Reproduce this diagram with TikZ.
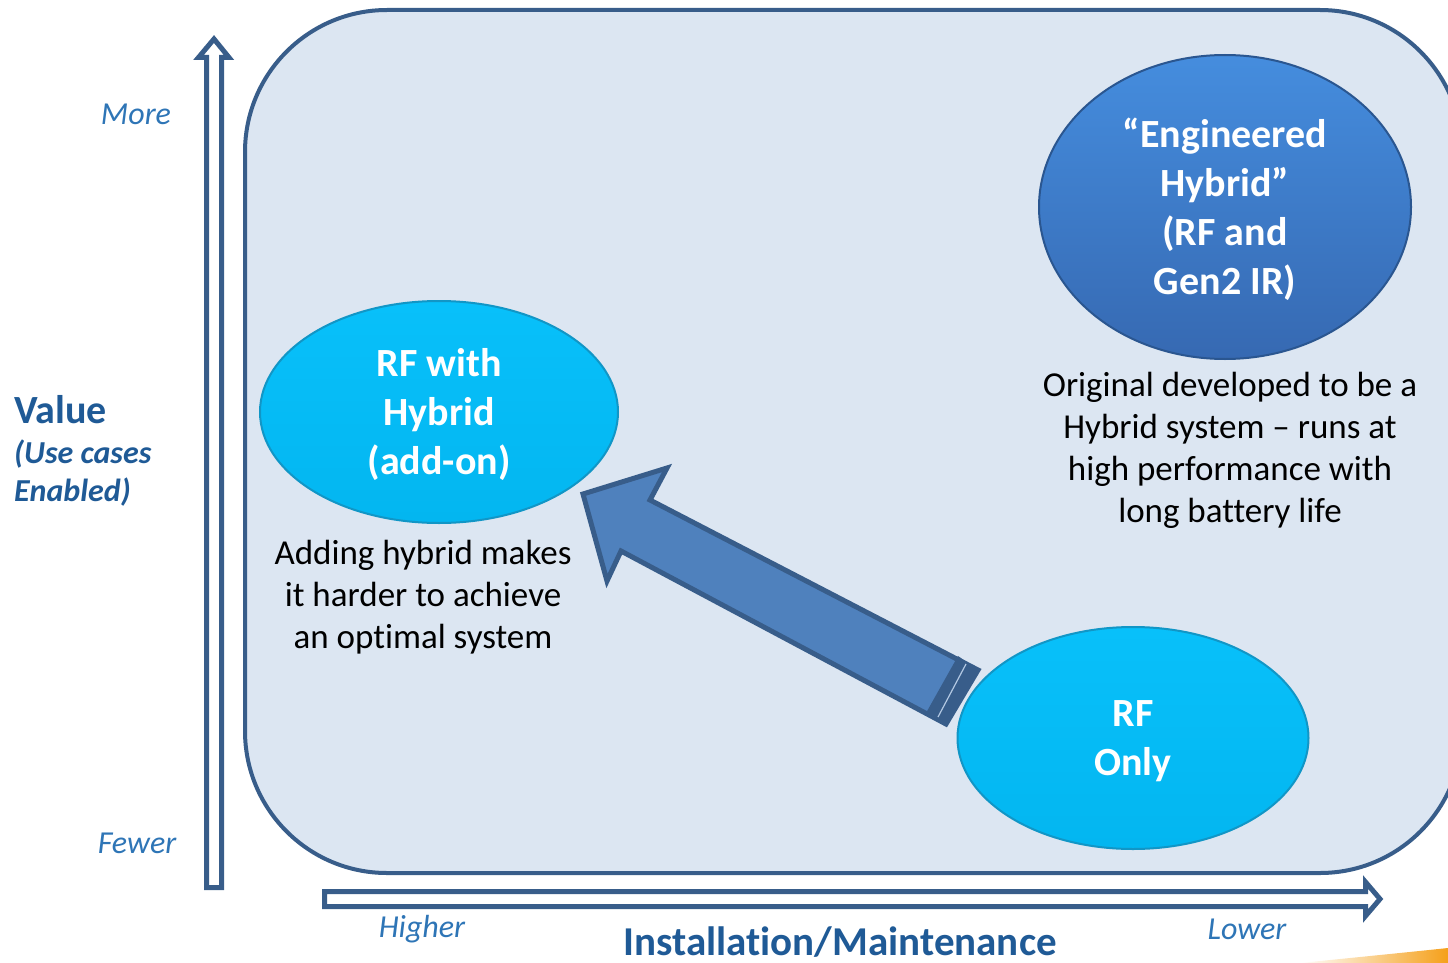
\documentclass[tikz,border=0pt]{standalone}
\usepackage{fontspec}
\setmainfont{Carlito}[RawFeature=-liga]
\usetikzlibrary{shapes.geometric}
\definecolor{frame}{HTML}{385D8A}
\definecolor{panel}{HTML}{DCE6F2}
\definecolor{arrowfill}{HTML}{4F81BD}
\definecolor{cyanA}{HTML}{08C0FA}
\definecolor{cyanB}{HTML}{03B6F0}
\definecolor{cyanR}{HTML}{1196C6}
\definecolor{blueA}{HTML}{458DDE}
\definecolor{blueB}{HTML}{3669B2}
\definecolor{blueR}{HTML}{2A5690}
\definecolor{labblue}{HTML}{2E75B6}
\definecolor{darkblue}{HTML}{1F5A96}
\definecolor{orng}{HTML}{F5A01A}
\tikzset{
  axisarrow/.style={draw=frame, line width=5pt, fill=white, line join=miter},
  bubble/.style={ellipse, inner sep=0pt, text=white, align=center,
    font=\fontsize{40}{49}\selectfont\bfseries},
  cyanbubble/.style={bubble, draw=cyanR, line width=2pt, top color=cyanA, bottom color=cyanB},
  bluebubble/.style={bubble, draw=blueR, line width=2pt, top color=blueA, bottom color=blueB},
  desc/.style={align=center, font=\fontsize{35}{42}\selectfont, text=black},
  axlab/.style={font=\fontsize{32}{38}\selectfont\itshape, text=labblue},
}
\begin{document}
\begin{tikzpicture}[x=1pt,y=-1pt]
\useasboundingbox (0,0) rectangle (1448,963);
\clip (0,0) rectangle (1448,963);
% panel
\draw[frame, line width=4pt, fill=panel, rounded corners=142pt] (245,10) rectangle (1462,873);
% vertical axis arrow
\draw[axisarrow] (214,39) -- (229,57.5) -- (221.5,57.5) -- (221.5,887.5) -- (206.5,887.5) -- (206.5,57.5) -- (198.5,57.5) -- cycle;
% horizontal axis arrow
\draw[axisarrow] (1380,899) -- (1365.5,916) -- (1365.5,906.5) -- (324.5,906.5) -- (324.5,891.5) -- (1365.5,891.5) -- (1365.5,882) -- cycle;
% orange swoosh
\shade[left color=white, right color=orng] (1300,963) .. controls (1370,956) and (1410,952) .. (1448,948) -- (1448,963) -- cycle;
% bubbles
\node[bluebubble, minimum width=372pt, minimum height=304pt] (eng) at (1225,207) {};
\node[cyanbubble, minimum width=358pt, minimum height=222pt] (rfh) at (439,412) {};
\node[cyanbubble, minimum width=351pt, minimum height=222pt] (rfo) at (1133,738) {};
\node[bubble] (engt) at (1225,209) {“Engineered\\Hybrid”\\(RF and\\Gen2 IR)};
\node[bubble] (rfht) at (439,414) {RF with\\Hybrid\\(add-on)};
\node[bubble] (rfot) at (1133,741) {RF\\Only};
% big block arrow
\coordinate (tip) at (583,494);
\draw[frame, line width=5pt, fill=arrowfill, line join=miter]
  (tip) -- (667,468) -- (650,500) -- (978,670) -- (946,724) -- (621,551) -- (607,581) -- cycle;
\fill[frame] (958,656) -- (978,670) -- (946,724) -- (926,713) -- cycle;
\draw[panel!70!arrowfill, line width=1.2pt] (966,664) -- (938,717);
% descriptions
\node[desc] (d1) at (423,597) {Adding hybrid makes\\it harder to achieve\\an optimal system};
\node[desc] (d2) at (1230,450) {Original developed to be a\\Hybrid system – runs at\\high performance with\\long battery life};
% axis labels
\node[axlab] (more) at (136,114) {More};
\node[axlab] (fewer) at (137,843) {Fewer};
\node[axlab] (higher) at (422,929) {Higher};
\node[axlab] (lower) at (1247,929) {Lower};
\node[font=\fontsize{41}{46}\selectfont\bfseries, text=darkblue] (inst) at (840,942) {Installation/Maintenance};
\node[anchor=west, inner sep=0pt, font=\fontsize{40}{46}\selectfont\bfseries, text=darkblue] (val) at (14,410) {Value};
\node[anchor=west, inner sep=0pt, align=left, font=\fontsize{32}{38}\selectfont\bfseries\itshape, text=darkblue] (use) at (14,473) {(Use cases\\Enabled)};
\end{tikzpicture}
\end{document}
